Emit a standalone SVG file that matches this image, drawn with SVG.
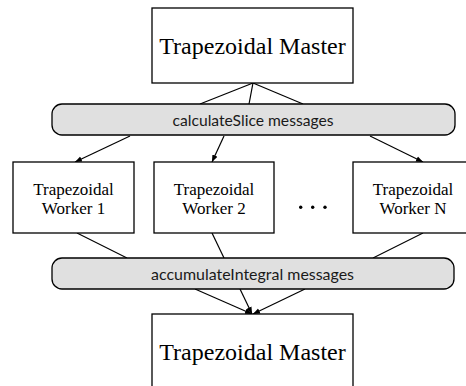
<svg xmlns="http://www.w3.org/2000/svg" width="466" height="386" viewBox="0 0 466 386">
<defs>
<marker id="ah" viewBox="0 0 10 10" refX="10" refY="5" markerWidth="7" markerHeight="7" markerUnits="userSpaceOnUse" orient="auto">
<path d="M0,1 L10,5 L0,9 Z" fill="#000"/>
</marker>
<style>
.box{fill:#fff;stroke:#000;stroke-width:1.3}
.pill{fill:#e0e0e0;stroke:#000;stroke-width:1.3}
.t{font-family:"Liberation Serif","Times New Roman",serif;fill:#000;text-anchor:middle}
.s{font-family:"Lato","Open Sans",sans-serif;fill:#1a1a1a;text-anchor:middle;font-size:15px}
.c{stroke:#000;stroke-width:1.2;fill:none}
.a{marker-end:url(#ah)}
</style>
</defs>
<rect width="466" height="386" fill="#fff"/>
<g id="connectors">
<line class="c" x1="253" y1="83" x2="200" y2="104"/>
<line class="c" x1="253" y1="83" x2="249" y2="104"/>
<line class="c" x1="253" y1="83" x2="303" y2="104"/>
<line class="c a" x1="130" y1="136" x2="75" y2="162"/>
<line class="c a" x1="224" y1="136" x2="212" y2="162"/>
<line class="c a" x1="370" y1="136" x2="423" y2="162"/>
<line class="c" x1="77" y1="233" x2="127" y2="258"/>
<line class="c" x1="212" y1="233" x2="224" y2="258"/>
<line class="c" x1="423" y1="233" x2="373" y2="258"/>
<line class="c a" x1="195" y1="289" x2="252" y2="314"/>
<line class="c a" x1="240" y1="289" x2="252" y2="314"/>
<line class="c a" x1="305" y1="289" x2="253" y2="314"/>
</g>
<g id="master-top">
<rect class="box" x="152" y="8" width="201" height="75"/>
<text class="t" x="252.5" y="54" font-size="24">Trapezoidal Master</text>
</g>
<g id="calculateSlice">
<rect class="pill" x="52" y="104" width="403" height="31" rx="10"/>
<text class="s" x="253" y="126" textLength="161" lengthAdjust="spacingAndGlyphs">calculateSlice messages</text>
</g>
<g id="worker1">
<rect class="box" x="13" y="162" width="121" height="71"/>
<text class="t" x="73.5" y="195" font-size="17">Trapezoidal</text>
<text class="t" x="73.5" y="214" font-size="17">Worker 1</text>
</g>
<g id="worker2">
<rect class="box" x="154" y="162" width="120" height="71"/>
<text class="t" x="214" y="195" font-size="17">Trapezoidal</text>
<text class="t" x="214" y="214" font-size="17">Worker 2</text>
</g>
<g id="dots">
<circle cx="300.7" cy="207.3" r="1.7" fill="#000"/>
<circle cx="312.7" cy="207.3" r="1.7" fill="#000"/>
<circle cx="325" cy="207.3" r="1.7" fill="#000"/>
</g>
<g id="workerN">
<rect class="box" x="353" y="162" width="120" height="71"/>
<text class="t" x="413" y="195" font-size="17">Trapezoidal</text>
<text class="t" x="413" y="214" font-size="17">Worker N</text>
</g>
<g id="accumulateIntegral">
<rect class="pill" x="52" y="258" width="402" height="31" rx="10"/>
<text class="s" x="252.5" y="280" textLength="203" lengthAdjust="spacingAndGlyphs">accumulateIntegral messages</text>
</g>
<g id="master-bottom">
<rect class="box" x="152" y="314" width="201" height="80"/>
<text class="t" x="252.5" y="360" font-size="24">Trapezoidal Master</text>
</g>
</svg>
